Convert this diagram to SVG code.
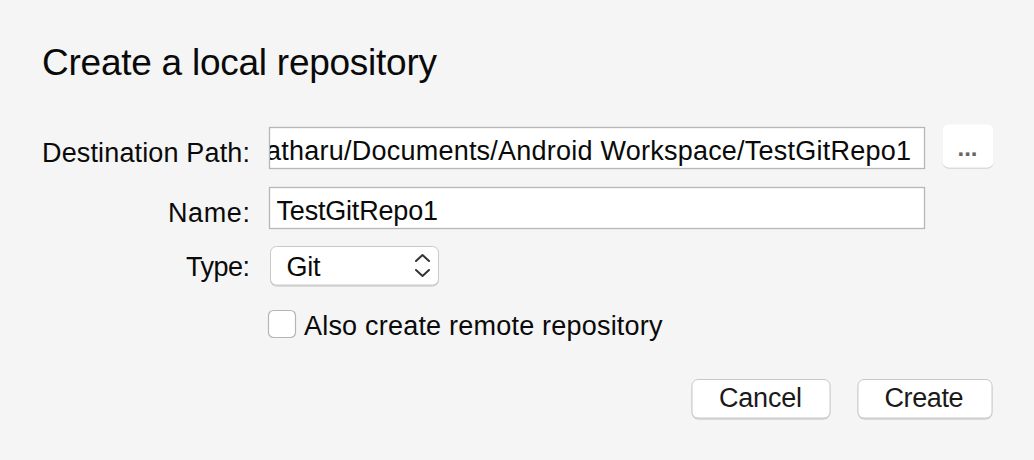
<svg xmlns="http://www.w3.org/2000/svg" width="1034" height="460" viewBox="0 0 1034 460">
<style>
.t{font-family:"Liberation Sans",Arial,Helvetica,sans-serif;fill:#0a0a0a}
.lbl{font-size:27px;text-anchor:end}
.val{font-size:27px}
.field{fill:#fff;stroke:#b7b7b7;stroke-width:1.3}
.btn{fill:#fff;stroke:#c9c9c9;stroke-width:1}
.btxt{font-size:27px;text-anchor:middle;fill:#1a1a1a}
</style>
<defs>
<clipPath id="pathclip"><rect x="270" y="127" width="654" height="42"/></clipPath>
<filter id="sh" x="-10%" y="-20%" width="120%" height="150%">
<feDropShadow dx="0" dy="1" stdDeviation="0.7" flood-color="#000" flood-opacity="0.22"/>
</filter>
</defs>
<rect x="0" y="0" width="1034" height="460" fill="#f5f5f5"/>

<g id="title">
<text class="t" x="42" y="75" font-size="37" textLength="395">Create a local repository</text>
</g>

<g id="destination">
<text class="t lbl" x="250" y="162" textLength="208">Destination Path:</text>
<rect class="field" x="269.5" y="127.5" width="655" height="41"/>
<text class="t val" x="266" y="159.5" textLength="645" clip-path="url(#pathclip)">atharu/Documents/Android Workspace/TestGitRepo1</text>
</g>

<g id="browse">
<rect x="942.5" y="124.5" width="51" height="43" rx="6" filter="url(#sh)" style="fill:#fff;stroke:none"/>
<text class="t" x="967.5" y="156" font-size="24" text-anchor="middle" style="fill:#666;font-weight:bold">...</text>
</g>

<g id="name">
<text class="t lbl" x="250" y="222" textLength="82">Name:</text>
<rect class="field" x="269.5" y="187.5" width="655" height="41"/>
<text class="t val" x="276.5" y="219.5" textLength="161.5">TestGitRepo1</text>
</g>

<g id="type">
<text class="t lbl" x="250" y="276" textLength="64">Type:</text>
<rect class="btn" x="270.5" y="246.5" width="168" height="38.5" rx="6" filter="url(#sh)"/>
<text class="t val" x="286.5" y="276" textLength="34">Git</text>
<path d="M416 261 L422.5 255 L429 261 M416 270 L422.5 276 L429 270" fill="none" stroke="#333" stroke-width="2" stroke-linecap="round" stroke-linejoin="round"/>
</g>

<g id="remote">
<rect x="268.5" y="310.5" width="27" height="27" rx="5" fill="#fff" stroke="#b5b5b5" stroke-width="1.2"/>
<text class="t val" x="304" y="335" textLength="358.5">Also create remote repository</text>
</g>

<g id="cancel">
<rect class="btn" x="692" y="379.5" width="138" height="38.5" rx="6" filter="url(#sh)"/>
<text class="t btxt" x="760.5" y="407" textLength="83">Cancel</text>
</g>

<g id="create">
<rect class="btn" x="858" y="379.5" width="134" height="38.5" rx="6" filter="url(#sh)"/>
<text class="t btxt" x="924" y="407" textLength="79">Create</text>
</g>

<g id="connectors"></g>
</svg>
